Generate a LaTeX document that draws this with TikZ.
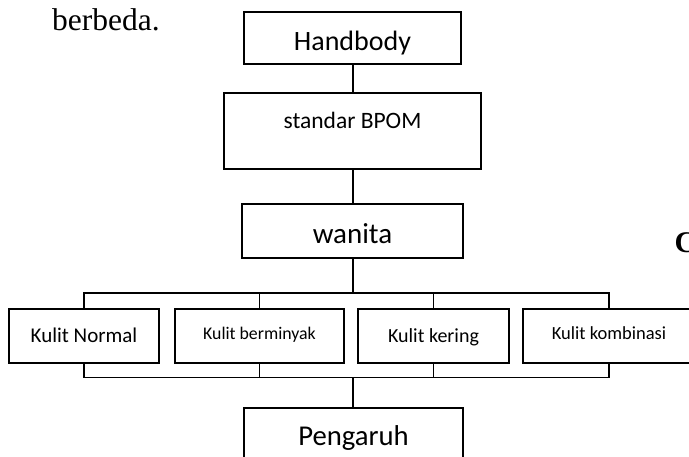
\documentclass[tikz,border=0pt]{standalone}
\usepackage{fontspec}
\setmainfont{Carlito}
\newfontfamily\serifdoc{Liberation Serif}
\begin{document}
\begin{tikzpicture}[x=1pt,y=-1pt,
  box/.style={draw=black,line width=1.9pt,inner sep=0pt,outer sep=0pt,rectangle,align=center},
  conn/.style={draw=black,line width=1.9pt},
  fs/.style={font=\fontsize{#1}{#1}\selectfont}]
\useasboundingbox (0,0) rectangle (689,456);
\begin{scope}
\clip (0,0) rectangle (689,456);
% text outside the diagram
\node[anchor=base west,inner sep=0pt,font=\serifdoc\fontsize{31.5}{31.5}\selectfont] (txt) at (52,30) {berbeda.};
\node[anchor=base west,inner sep=0pt,font=\serifdoc\bfseries\fontsize{30}{30}\selectfont] (cc) at (674.5,252) {C};
% boxes
\node[box,fs=28,minimum width=217pt,minimum height=52pt,text height=24pt,text depth=0pt] (H) at (352.5,38) {Handbody};
\node[box,fs=23.5,minimum width=257pt,minimum height=76pt,text height=12pt,text depth=18pt] (S) at (352.5,131) {standar BPOM};
\node[box,fs=29,minimum width=221pt,minimum height=54pt,text height=24pt,text depth=0pt] (W) at (352.5,231) {wanita};
\node[box,fs=21,minimum width=150pt,minimum height=54pt,text height=16pt,text depth=4pt] (K1) at (84,336) {Kulit Normal};
\node[box,fs=17.8,minimum width=169pt,minimum height=54pt,text height=12pt,text depth=6pt] (K2) at (259.5,336) {Kulit berminyak};
\node[box,fs=20,minimum width=151pt,minimum height=54pt,text height=16pt,text depth=4pt] (K3) at (433.5,336) {Kulit kering};
\node[box,fs=18.5,minimum width=172pt,minimum height=54pt,text height=12pt,text depth=6pt] (K4) at (609,336) {Kulit kombinasi};
\node[box,fs=28.7,minimum width=219pt,minimum height=52pt,text height=22pt,text depth=0pt] (P) at (353.5,434) {Pengaruh};
% connectors
\coordinate (topbus) at (353,293);
\coordinate (botbus) at (353,377.5);
\draw[conn] (H.south -| topbus) -- (S.north -| topbus);
\draw[conn] (S.south -| topbus) -- (W.north -| topbus);
\draw[conn] (W.south -| topbus) -- (topbus);
\draw[conn] (K1.north) -- (K1.north |- topbus) -- (K4.north |- topbus) -- (K4.north);
\draw[conn] (K2.north) -- (K2.north |- topbus);
\draw[conn] (K3.north) -- (K3.north |- topbus);
\draw[conn] (K1.south) -- (K1.south |- botbus) -- (K4.south |- botbus) -- (K4.south);
\draw[conn] (K2.south) -- (K2.south |- botbus);
\draw[conn] (K3.south) -- (K3.south |- botbus);
\draw[conn] (botbus) -- (P.north -| botbus);
\end{scope}
\end{tikzpicture}
\end{document}
